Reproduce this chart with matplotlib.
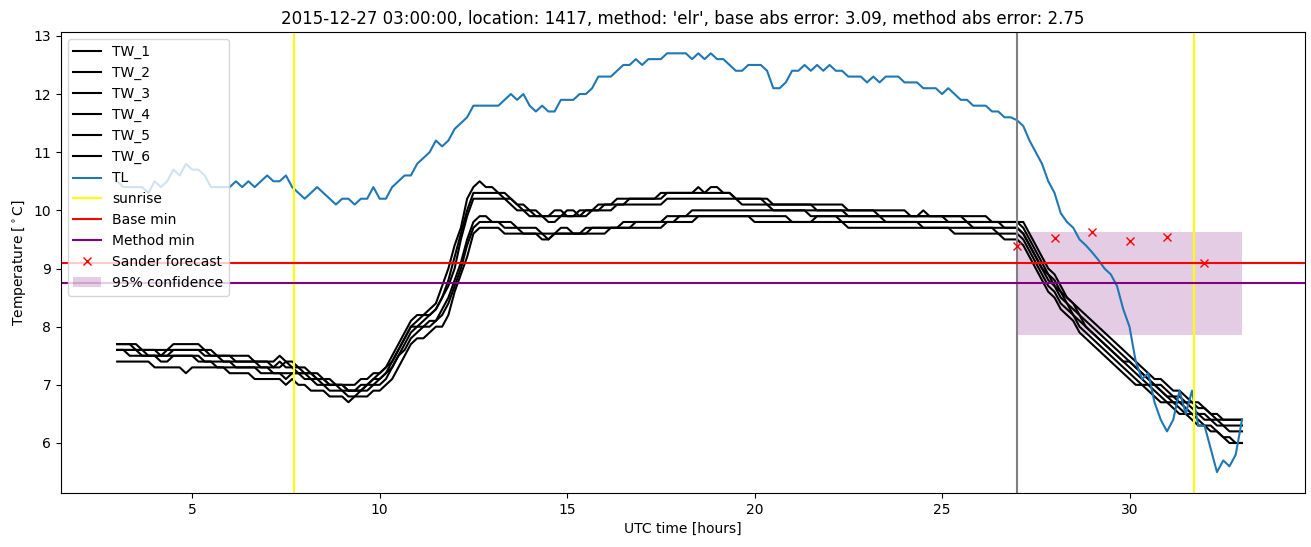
import numpy as np
import matplotlib
matplotlib.use('Agg')
import matplotlib.pyplot as plt

# data, 10 minute steps from 03:00 to 33:00 (hours after midnight UTC)
hours = np.arange(181) / 6.0 + 3.0

TL = [10.5, 10.4, 10.4, 10.4, 10.4, 10.3, 10.5, 10.4, 10.5, 10.7, 10.6, 10.8,
      10.7, 10.7, 10.6, 10.4, 10.4, 10.4, 10.4, 10.5, 10.4, 10.5, 10.4, 10.5,
      10.6, 10.5, 10.5, 10.6, 10.4, 10.3, 10.2, 10.3, 10.4, 10.3, 10.2, 10.1,
      10.2, 10.2, 10.1, 10.2, 10.2, 10.4, 10.2, 10.2, 10.4, 10.5, 10.6, 10.6,
      10.8, 10.9, 11.0, 11.2, 11.1, 11.2, 11.4, 11.5, 11.6, 11.8, 11.8, 11.8,
      11.8, 11.8, 11.9, 12.0, 11.9, 12.0, 11.8, 11.7, 11.8, 11.7, 11.7, 11.9,
      11.9, 11.9, 12.0, 12.0, 12.1, 12.3, 12.3, 12.3, 12.4, 12.5, 12.5, 12.6,
      12.5, 12.6, 12.6, 12.6, 12.7, 12.7, 12.7, 12.7, 12.6, 12.7, 12.6, 12.7,
      12.6, 12.6, 12.5, 12.4, 12.4, 12.5, 12.5, 12.5, 12.4, 12.1, 12.1, 12.2,
      12.4, 12.4, 12.5, 12.4, 12.5, 12.4, 12.5, 12.4, 12.4, 12.3, 12.3, 12.3,
      12.2, 12.3, 12.2, 12.3, 12.3, 12.3, 12.2, 12.2, 12.2, 12.1, 12.1, 12.1,
      12.0, 12.1, 12.0, 11.9, 11.9, 11.8, 11.8, 11.8, 11.7, 11.7, 11.6, 11.6,
      11.55, 11.45, 11.2, 11.0, 10.8, 10.5, 10.3, 9.95, 9.8, 9.7, 9.5, 9.4,
      9.28, 9.15, 9.0, 8.9, 8.7, 8.3, 8.0, 7.4, 7.1, 7.2, 6.7, 6.4,
      6.2, 6.4, 6.9, 6.5, 6.9, 6.3, 6.3, 5.9, 5.5, 5.7, 5.6, 5.8,
      6.4]

TW_1 = [7.7, 7.7, 7.7, 7.7, 7.6, 7.6, 7.6, 7.6, 7.6, 7.7, 7.7, 7.7,
        7.7, 7.7, 7.6, 7.6, 7.5, 7.5, 7.5, 7.5, 7.5, 7.5, 7.4, 7.4,
        7.4, 7.4, 7.5, 7.4, 7.4, 7.3, 7.3, 7.2, 7.2, 7.1, 7.1, 7.0,
        7.0, 7.0, 7.0, 7.1, 7.1, 7.2, 7.2, 7.3, 7.5, 7.7, 7.9, 8.1,
        8.2, 8.2, 8.3, 8.4, 8.7, 9.0, 9.4, 9.7, 10.2, 10.4, 10.5, 10.4,
        10.4, 10.3, 10.3, 10.2, 10.1, 10.1, 10.0, 10.0, 9.9, 9.9, 9.9, 9.9,
        10.0, 10.0, 9.9, 10.0, 10.0, 10.1, 10.1, 10.1, 10.2, 10.2, 10.2, 10.2,
        10.2, 10.2, 10.2, 10.3, 10.3, 10.3, 10.3, 10.3, 10.3, 10.4, 10.3, 10.4,
        10.4, 10.3, 10.3, 10.2, 10.2, 10.2, 10.2, 10.2, 10.2, 10.1, 10.1, 10.1,
        10.1, 10.1, 10.1, 10.1, 10.1, 10.1, 10.1, 10.1, 10.1, 10.0, 10.0, 10.0,
        10.0, 10.0, 10.0, 10.0, 10.0, 10.0, 10.0, 9.9, 9.9, 10.0, 9.9, 9.9,
        9.9, 9.9, 9.9, 9.9, 9.9, 9.9, 9.9, 9.9, 9.8, 9.8, 9.8, 9.8,
        9.8, 9.8, 9.6, 9.4, 9.2, 9.0, 8.9, 8.7, 8.5, 8.4, 8.3, 8.2,
        8.1, 8.0, 7.9, 7.8, 7.7, 7.6, 7.5, 7.4, 7.3, 7.2, 7.1, 7.1,
        7.0, 6.9, 6.9, 6.8, 6.7, 6.7, 6.6, 6.5, 6.5, 6.4, 6.4, 6.4,
        6.4]

TW_2 = [7.7, 7.7, 7.7, 7.6, 7.6, 7.6, 7.6, 7.5, 7.6, 7.6, 7.6, 7.6,
        7.6, 7.6, 7.6, 7.5, 7.5, 7.5, 7.5, 7.4, 7.4, 7.4, 7.4, 7.4,
        7.4, 7.3, 7.3, 7.4, 7.3, 7.3, 7.2, 7.2, 7.1, 7.1, 7.0, 7.0,
        7.0, 6.9, 6.9, 7.0, 7.0, 7.1, 7.2, 7.3, 7.4, 7.6, 7.8, 8.0,
        8.1, 8.2, 8.2, 8.3, 8.5, 8.8, 9.2, 9.6, 10.0, 10.3, 10.3, 10.3,
        10.3, 10.3, 10.2, 10.2, 10.1, 10.0, 10.0, 9.9, 9.9, 9.9, 10.0, 10.0,
        9.9, 9.9, 10.0, 10.0, 10.0, 10.0, 10.1, 10.1, 10.1, 10.1, 10.2, 10.2,
        10.2, 10.2, 10.2, 10.2, 10.3, 10.3, 10.3, 10.3, 10.3, 10.3, 10.3, 10.3,
        10.3, 10.3, 10.3, 10.2, 10.2, 10.2, 10.2, 10.2, 10.1, 10.1, 10.1, 10.1,
        10.1, 10.1, 10.1, 10.1, 10.0, 10.0, 10.0, 10.0, 10.0, 10.0, 10.0, 10.0,
        10.0, 10.0, 9.9, 9.9, 9.9, 9.9, 9.9, 9.9, 9.9, 9.9, 9.9, 9.9,
        9.9, 9.9, 9.9, 9.9, 9.8, 9.8, 9.8, 9.8, 9.8, 9.8, 9.8, 9.8,
        9.8, 9.7, 9.5, 9.3, 9.1, 8.9, 8.8, 8.6, 8.5, 8.4, 8.2, 8.1,
        8.0, 7.9, 7.8, 7.7, 7.6, 7.5, 7.4, 7.3, 7.2, 7.1, 7.0, 7.0,
        6.9, 6.8, 6.8, 6.7, 6.7, 6.6, 6.6, 6.5, 6.4, 6.4, 6.4, 6.4,
        6.4]

TW_3 = [7.6, 7.6, 7.6, 7.6, 7.6, 7.5, 7.5, 7.5, 7.5, 7.6, 7.6, 7.6,
        7.6, 7.6, 7.5, 7.5, 7.5, 7.4, 7.4, 7.4, 7.4, 7.4, 7.4, 7.3,
        7.3, 7.3, 7.4, 7.3, 7.3, 7.2, 7.2, 7.2, 7.1, 7.1, 7.0, 7.0,
        7.0, 6.9, 6.9, 6.9, 7.0, 7.1, 7.1, 7.2, 7.4, 7.6, 7.8, 8.0,
        8.0, 8.1, 8.2, 8.3, 8.5, 8.7, 9.0, 9.5, 9.9, 10.2, 10.2, 10.2,
        10.2, 10.2, 10.2, 10.1, 10.0, 10.0, 9.9, 9.9, 9.9, 9.8, 9.8, 9.9,
        9.9, 9.9, 9.9, 9.9, 10.0, 10.0, 10.0, 10.0, 10.1, 10.1, 10.1, 10.1,
        10.1, 10.1, 10.1, 10.1, 10.2, 10.2, 10.2, 10.2, 10.2, 10.2, 10.2, 10.2,
        10.2, 10.2, 10.2, 10.2, 10.1, 10.1, 10.1, 10.1, 10.1, 10.0, 10.0, 10.0,
        10.0, 10.0, 10.0, 10.0, 10.0, 10.0, 10.0, 10.0, 10.0, 9.9, 9.9, 9.9,
        9.9, 9.9, 9.9, 9.9, 9.9, 9.9, 9.9, 9.9, 9.9, 9.9, 9.9, 9.9,
        9.9, 9.8, 9.8, 9.8, 9.8, 9.8, 9.8, 9.8, 9.8, 9.8, 9.7, 9.7,
        9.7, 9.6, 9.4, 9.2, 9.0, 8.9, 8.7, 8.6, 8.4, 8.3, 8.2, 8.0,
        7.9, 7.8, 7.7, 7.6, 7.5, 7.4, 7.4, 7.3, 7.2, 7.1, 7.0, 6.9,
        6.8, 6.8, 6.7, 6.7, 6.6, 6.5, 6.5, 6.4, 6.4, 6.3, 6.3, 6.3,
        6.3]

TW_4 = [7.6, 7.6, 7.6, 7.6, 7.5, 7.5, 7.5, 7.5, 7.5, 7.5, 7.5, 7.5,
        7.5, 7.5, 7.4, 7.4, 7.4, 7.4, 7.4, 7.3, 7.3, 7.3, 7.3, 7.3,
        7.3, 7.2, 7.2, 7.2, 7.2, 7.2, 7.2, 7.1, 7.1, 7.0, 7.0, 7.0,
        6.9, 6.9, 6.9, 6.9, 7.0, 7.0, 7.1, 7.2, 7.3, 7.5, 7.7, 7.9,
        8.0, 8.0, 8.1, 8.1, 8.3, 8.5, 8.8, 9.1, 9.5, 9.8, 9.9, 9.9,
        9.8, 9.8, 9.8, 9.8, 9.7, 9.7, 9.7, 9.7, 9.6, 9.6, 9.6, 9.7,
        9.7, 9.6, 9.6, 9.7, 9.7, 9.7, 9.7, 9.7, 9.7, 9.8, 9.8, 9.8,
        9.8, 9.8, 9.8, 9.8, 9.9, 9.9, 9.9, 9.9, 10.0, 10.0, 10.0, 10.0,
        10.0, 10.0, 10.0, 10.0, 10.0, 10.0, 10.0, 10.0, 10.0, 10.0, 10.0, 10.0,
        10.0, 10.0, 10.0, 9.9, 9.9, 9.9, 9.9, 9.9, 9.9, 9.9, 9.9, 9.9,
        9.9, 9.9, 9.9, 9.8, 9.8, 9.8, 9.8, 9.8, 9.8, 9.8, 9.8, 9.8,
        9.8, 9.8, 9.8, 9.8, 9.8, 9.7, 9.7, 9.7, 9.7, 9.7, 9.7, 9.7,
        9.7, 9.6, 9.4, 9.2, 9.0, 8.8, 8.7, 8.5, 8.4, 8.2, 8.1, 8.0,
        7.9, 7.8, 7.7, 7.6, 7.5, 7.4, 7.3, 7.2, 7.1, 7.0, 7.0, 6.9,
        6.8, 6.7, 6.7, 6.6, 6.5, 6.5, 6.4, 6.4, 6.3, 6.3, 6.2, 6.2,
        6.2]

TW_5 = [7.6, 7.6, 7.5, 7.5, 7.5, 7.5, 7.5, 7.4, 7.4, 7.5, 7.5, 7.5,
        7.5, 7.4, 7.4, 7.4, 7.3, 7.3, 7.3, 7.3, 7.3, 7.3, 7.3, 7.2,
        7.2, 7.2, 7.2, 7.1, 7.2, 7.2, 7.1, 7.1, 7.0, 7.0, 6.9, 6.9,
        6.9, 6.8, 6.8, 6.9, 6.9, 7.0, 7.0, 7.1, 7.3, 7.5, 7.6, 7.8,
        7.9, 8.0, 8.0, 8.1, 8.2, 8.4, 8.7, 9.0, 9.4, 9.7, 9.8, 9.8,
        9.8, 9.8, 9.7, 9.7, 9.7, 9.6, 9.6, 9.6, 9.6, 9.5, 9.6, 9.6,
        9.6, 9.6, 9.6, 9.6, 9.7, 9.7, 9.7, 9.7, 9.7, 9.7, 9.7, 9.8,
        9.8, 9.8, 9.8, 9.8, 9.8, 9.8, 9.9, 9.9, 9.9, 9.9, 9.9, 9.9,
        9.9, 9.9, 9.9, 9.9, 9.9, 9.9, 9.9, 9.9, 9.9, 9.9, 9.9, 9.9,
        9.8, 9.8, 9.8, 9.8, 9.9, 9.9, 9.9, 9.9, 9.8, 9.8, 9.8, 9.8,
        9.8, 9.8, 9.8, 9.8, 9.8, 9.8, 9.8, 9.8, 9.8, 9.7, 9.7, 9.7,
        9.7, 9.7, 9.7, 9.7, 9.7, 9.7, 9.7, 9.7, 9.7, 9.6, 9.6, 9.6,
        9.6, 9.5, 9.3, 9.1, 8.9, 8.7, 8.6, 8.4, 8.3, 8.2, 8.0, 7.9,
        7.8, 7.7, 7.6, 7.5, 7.4, 7.3, 7.2, 7.1, 7.0, 7.0, 6.9, 6.8,
        6.7, 6.7, 6.6, 6.5, 6.5, 6.4, 6.3, 6.3, 6.2, 6.1, 6.1, 6.0,
        6.0]

TW_6 = [7.4, 7.4, 7.4, 7.4, 7.4, 7.4, 7.3, 7.3, 7.3, 7.3, 7.3, 7.2,
        7.3, 7.3, 7.3, 7.3, 7.3, 7.3, 7.2, 7.2, 7.2, 7.2, 7.1, 7.1,
        7.1, 7.1, 7.1, 7.0, 7.1, 7.0, 7.0, 6.9, 6.9, 6.9, 6.8, 6.8,
        6.8, 6.7, 6.8, 6.8, 6.8, 6.9, 6.9, 7.0, 7.1, 7.3, 7.5, 7.7,
        7.8, 7.8, 7.9, 8.0, 8.0, 8.2, 8.6, 8.9, 9.2, 9.6, 9.7, 9.7,
        9.7, 9.7, 9.6, 9.6, 9.6, 9.6, 9.6, 9.6, 9.5, 9.5, 9.6, 9.6,
        9.6, 9.6, 9.6, 9.6, 9.6, 9.6, 9.6, 9.7, 9.7, 9.7, 9.7, 9.7,
        9.7, 9.7, 9.7, 9.7, 9.8, 9.8, 9.8, 9.8, 9.8, 9.9, 9.9, 9.9,
        9.9, 9.9, 9.9, 9.9, 9.9, 9.9, 9.8, 9.8, 9.8, 9.8, 9.8, 9.8,
        9.8, 9.8, 9.8, 9.8, 9.8, 9.8, 9.8, 9.8, 9.8, 9.7, 9.7, 9.7,
        9.7, 9.7, 9.7, 9.7, 9.7, 9.7, 9.7, 9.7, 9.7, 9.7, 9.7, 9.7,
        9.7, 9.7, 9.6, 9.6, 9.6, 9.6, 9.6, 9.6, 9.6, 9.6, 9.5, 9.5,
        9.5, 9.4, 9.2, 9.0, 8.8, 8.6, 8.5, 8.3, 8.2, 8.1, 7.9, 7.8,
        7.7, 7.6, 7.5, 7.4, 7.3, 7.2, 7.1, 7.0, 7.0, 6.9, 6.8, 6.7,
        6.7, 6.6, 6.5, 6.5, 6.4, 6.3, 6.3, 6.2, 6.2, 6.1, 6.0, 6.0,
        6.0]

sunrise = [7.72, 31.73]
forecast_start = 27.0
base_min = 9.09
method_min = 8.75
sander_hours = [27, 28, 29, 30, 31, 32]
sander_temp = [9.38, 9.52, 9.62, 9.48, 9.55, 9.09]
conf_hours = [27.0, 33.0]
conf_low = 7.85
conf_high = 9.62

title = ("2015-12-27 03:00:00, location: 1417, method: 'elr', "
         "base abs error: 3.09, method abs error: 2.75")

fig = plt.figure(figsize=(13.11, 5.47), dpi=100)
ax = fig.add_subplot(111)
fig.subplots_adjust(left=0.0465, right=0.9954, top=0.9408, bottom=0.0987)

for name, tw in zip(['TW_1', 'TW_2', 'TW_3', 'TW_4', 'TW_5', 'TW_6'],
                    [TW_1, TW_2, TW_3, TW_4, TW_5, TW_6]):
    ax.plot(hours, tw, color='black', label=name)
ax.plot(hours, TL, color='tab:blue', label='TL')

ax.axvline(sunrise[0], color='yellow', label='sunrise')
ax.axvline(sunrise[1], color='yellow')
ax.axvline(forecast_start, color='gray')
ax.axhline(base_min, color='red', label='Base min')
ax.axhline(method_min, color='purple', label='Method min')
ax.plot(sander_hours, sander_temp, 'rx', label='Sander forecast')
ax.fill_between(conf_hours, conf_low, conf_high, color='purple', alpha=0.2,
                linewidth=0, label='95% confidence')

ax.set_xlim(1.5, 34.68)
ax.set_ylim(5.14, 13.06)
ax.set_title(title)
ax.set_xlabel('UTC time [hours]')
ax.set_ylabel(r'Temperature [$^\circ$C]')
ax.legend(loc='upper left')

fig.savefig('out.png', dpi=100)
